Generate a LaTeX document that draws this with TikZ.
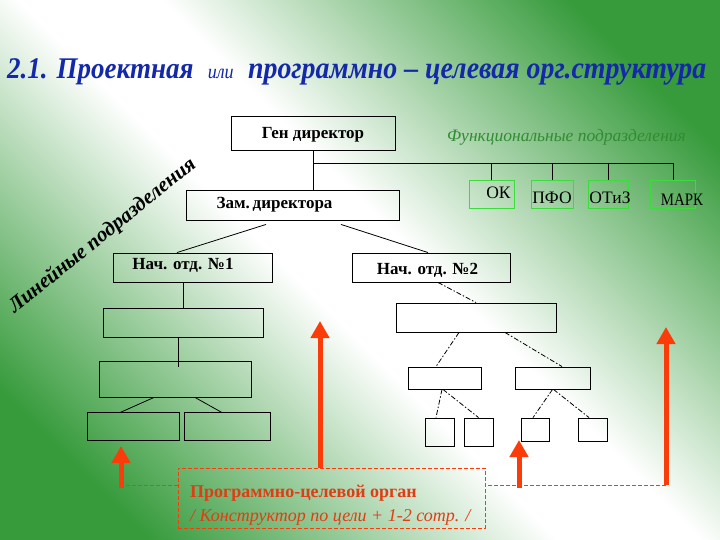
\documentclass[tikz,border=0pt]{standalone}
\usepackage{fontspec}
\setmainfont{Liberation Serif}
\usetikzlibrary{arrows.meta,calc}

\definecolor{verde}{RGB}{55,155,60}
\definecolor{azul}{RGB}{20,40,170}
\definecolor{rojo}{RGB}{250,60,10}
\definecolor{rojotxt}{RGB}{225,60,20}
\definecolor{verdetxt}{RGB}{50,140,50}
\definecolor{verdecaja}{RGB}{60,220,60}

\pgfdeclareverticalshading{fondo}{100bp}{color(0bp)=(verde); color(23bp)=(verde);
  color(46bp)=(white); color(54bp)=(white); color(77bp)=(verde); color(100bp)=(verde)}

\begin{document}
\begin{tikzpicture}[x=1pt,y=-1pt,
  box/.style 2 args={draw=black,line width=0.9pt,minimum width=#1,minimum height=#2,inner sep=0pt},
  fbox/.style={draw=verdecaja,line width=1pt,minimum width=#1,minimum height=28pt,inner sep=0pt},
  boxtext/.style={font=\bfseries\fontsize{17}{17}\selectfont},
  ftext/.style={font=\fontsize{17.5}{17.5}\selectfont},
  linea/.style={line width=0.8pt},
  rayas/.style={line width=0.8pt,dash pattern=on 5pt off 2pt on 1.5pt off 2pt},
  flecha/.style={draw=rojo,line width=5pt,-{Triangle[width=18pt,length=17pt]}},
  trazos/.style={draw=rojo,line width=0.8pt,dash pattern=on 4pt off 2pt}]
  % Fondo
  \shade[shading=fondo,shading angle=-45] (0,0) rectangle (720,540);
  \useasboundingbox (0,0) rectangle (720,540);

  % Titulo
  \node[anchor=base west,inner sep=0pt,xscale=0.9,text=azul,font=\bfseries\itshape\fontsize{30}{30}\selectfont] (titulo) at (7,79)
    {2.1. Проектная\hspace{16pt}{\mdseries\fontsize{20}{20}\selectfont или}\hspace{16pt}{\fontsize{31}{31}\selectfont программно – целевая орг.структура}};

  % Cajas
  \node[box={164pt}{34pt},label={[boxtext,yshift=-2pt]center:Ген директор}] (gen) at (313,133) {};
  \node[box={213pt}{30pt},label={[boxtext,xshift=-18pt]center:Зам.\,директора}] (zam) at (292.5,205) {};
  \node[box={159pt}{29pt},label={[boxtext,xshift=-9.5pt,yshift=2.5pt]center:Нач. отд. №1}] (nach1) at (192.5,267.5) {};
  \node[box={158pt}{29pt},label={[boxtext,xshift=-3.5pt,yshift=-2.5pt]center:Нач. отд. №2}] (nach2) at (431,267.5) {};
  \node[box={160pt}{29pt}] (l1) at (183,322.5) {};
  \node[box={152pt}{36pt}] (l2) at (175,379) {};
  \node[box={92pt}{28pt}] (l3a) at (133,426) {};
  \node[box={86pt}{28pt}] (l3b) at (227,426) {};
  \node[box={160pt}{29pt}] (r1) at (476,317.5) {};
  \node[box={73pt}{22pt}] (r2a) at (444.5,378) {};
  \node[box={75pt}{22pt}] (r2b) at (552.5,378) {};
  \node[box={29pt}{28pt}] (r3a) at (439.5,432) {};
  \node[box={29pt}{28pt}] (r3b) at (478.5,432) {};
  \node[box={28pt}{23pt}] (r3c) at (535,429.5) {};
  \node[box={29pt}{23pt}] (r3d) at (592.5,429.5) {};

  % Funcionales
  \node[fbox=45pt,label={[ftext,xshift=7pt,yshift=1.5pt]center:ОК}] (ok) at (491.5,194.5) {};
  \node[fbox=42pt,label={[ftext,yshift=-3pt]center:ПФО}] (pfo) at (552,194.5) {};
  \node[fbox=40pt,label={[ftext,xshift=2pt,yshift=-3pt]center:ОТиЗ}] (otiz) at (608,194.5) {};
  \node[fbox=45pt,label={[ftext,xscale=0.85,xshift=10.5pt,yshift=-5.5pt]center:МАРК}] (mark) at (673,194.5) {};
  \node[text=verdetxt,font=\itshape\fontsize{17.5}{17.5}\selectfont] (func) at (566.5,137) {Функциональные подразделения};
  \node[rotate=39,anchor=base,font=\bfseries\itshape\fontsize{21}{21}\selectfont] (lin)
    at (106,240) {Линейные подразделения};

  % Lineas
  \coordinate (bus) at (313,163);
  \draw[linea] (gen.south) -- (gen.south |- zam.north);
  \draw[linea] (bus) -| (mark.north);
  \draw[linea] (ok.north) -- (ok.north |- bus);
  \draw[linea] (pfo.north) -- (pfo.north |- bus);
  \draw[linea] (otiz.north) -- (otiz.north |- bus);
  \draw[linea] ($(zam.south)+(-26.5,4)$) -- ($(nach1.north)+(-15.5,0)$);
  \draw[linea] ($(zam.south)+(48.5,4)$) -- ($(nach2.north)+(-3,0)$);
  \draw[linea] (l1.north) -- (l1.north |- nach1.south);
  \draw[linea] ($(l2.north)+(3,6)$) -- ($(l2.north |- l1.south)+(3,1)$);
  \draw[linea] ($(l2.south)+(-21,0)$) -- ($(l3a.north)+(-13,1)$);
  \draw[linea] ($(l2.south)+(20,0)$) -- ($(l3b.north)+(-5,1)$);
  \draw[rayas] ($(nach2.south)+(7,0)$) -- (r1.north);
  \draw[rayas] ($(r1.south)+(-17,0)$) -- ($(r2a.north)+(-8.5,0)$);
  \draw[rayas] ($(r1.south)+(29,0)$) -- ($(r2b.north)+(9.5,0)$);
  \draw[rayas] ($(r2a.south)+(-2.5,0)$) -- ($(r3a.north)+(-3.5,0)$);
  \draw[rayas] ($(r2a.south)+(-1.5,0)$) -- (r3b.north);
  \draw[rayas] (r2b.south) -- ($(r3c.north)+(-2,0)$);
  \draw[rayas] ($(r2b.south)+(1,0)$) -- ($(r3d.north)+(-3.5,0)$);

  % Organo
  \node[trazos,minimum width=307pt,minimum height=60pt,inner sep=0pt] (prog) at (331.5,498) {};
  \node[anchor=base west,inner sep=0pt,text=rojotxt,font=\bfseries\fontsize{18}{18}\selectfont] (prog-a) at (190,497)
    {Программно-целевой орган};
  \node[anchor=base west,inner sep=0pt,text=rojotxt,font=\itshape\fontsize{18}{18}\selectfont] (prog-b) at (190,521)
    {/ Конструктор по цели + 1-2 сотр. /};

  % Flechas
  \coordinate (a-pie) at (121,488);
  \coordinate (a-tip) at (121,446);
  \coordinate (b-tip) at (320,321);
  \coordinate (c-pie) at (519,488);
  \coordinate (c-tip) at (519,440);
  \coordinate (d-pie) at (666,485);
  \coordinate (d-tip) at (666,327);
  \draw[flecha] (a-pie) -- (a-tip);
  \draw[flecha] (b-tip |- prog.north) -- (b-tip);
  \draw[flecha] (c-pie) -- (c-tip);
  \draw[flecha] (d-pie) -- (d-tip);
  \draw[trazos] (d-pie) -- (d-pie -| prog.east);
  \draw[trazos] (d-pie -| prog.west) -- (d-pie -| a-pie);
\end{tikzpicture}
\end{document}
